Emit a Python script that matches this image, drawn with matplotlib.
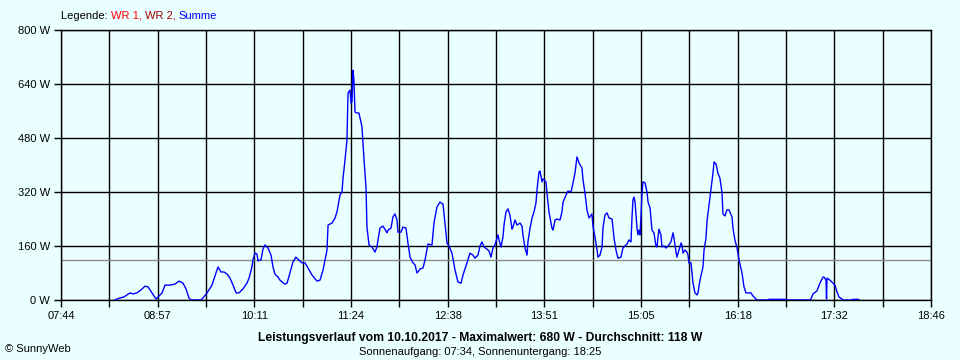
import matplotlib
matplotlib.use("Agg")
import matplotlib.pyplot as plt
import numpy as np

# Tagesverlauf 10.10.2017, Zeit in Minuten seit Mitternacht, Leistung in W (Summe)
minutes = [505.0, 506.6, 508.9, 511.9, 516.5, 518.8, 521.8, 524.9, 527.9, 530.2, 533.2, 536.3,
           537.8, 540.9, 543.1, 546.9, 550.7, 553.8, 556.8, 559.1, 561.4, 562.9, 570.5, 572.0,
           575.1, 578.9, 581.9, 583.5, 585.7, 588.0, 590.3, 592.6, 594.9, 597.2, 599.4, 602.5,
           605.5, 607.1, 609.3, 610.1, 611.6, 613.1, 613.9, 616.2, 617.7, 619.2, 621.5, 623.8,
           625.3, 626.8, 629.1, 630.6, 634.4, 636.0, 638.2, 640.5, 642.8, 644.3, 647.4, 649.7,
           651.9, 655.0, 658.8, 661.1, 663.4, 664.9, 666.4, 667.2, 670.2, 672.5, 674.0, 676.3,
           677.8, 678.6, 680.1, 681.6, 682.4, 683.9, 684.7, 685.4, 686.2, 686.9, 687.7, 689.2,
           690.7, 693.0, 694.6, 696.1, 696.8, 698.4, 700.6, 702.9, 704.4, 706.7, 709.0, 712.1,
           712.8, 715.1, 716.6, 718.1, 719.7, 720.4, 722.7, 724.2, 726.5, 728.0, 729.6, 731.8,
           733.4, 734.9, 737.2, 739.5, 741.0, 743.3, 746.3, 747.8, 750.1, 752.4, 754.7, 756.2,
           757.7, 759.2, 761.5, 763.8, 766.1, 768.4, 769.9, 772.9, 775.2, 777.5, 779.0, 781.3,
           782.8, 784.3, 785.9, 788.1, 789.7, 791.2, 792.7, 794.2, 795.8, 796.5, 797.3, 798.8,
           800.3, 801.1, 802.6, 804.1, 805.6, 807.2, 807.9, 809.5, 811.0, 813.3, 814.8, 815.5,
           817.1, 818.6, 819.3, 820.9, 822.4, 823.9, 825.4, 826.2, 827.7, 828.5, 830.0, 830.8,
           833.0, 833.8, 835.3, 837.6, 838.4, 839.9, 841.4, 843.7, 845.2, 846.0, 848.3, 849.8,
           852.1, 853.6, 855.1, 856.6, 858.2, 860.4, 861.2, 862.7, 864.2, 865.8, 868.0, 868.8,
           870.3, 871.9, 872.6, 874.1, 875.7, 876.4, 877.9, 879.5, 881.0, 883.3, 884.8, 886.3,
           887.8, 890.1, 891.6, 893.1, 894.7, 896.2, 897.7, 898.5, 899.2, 900.0, 900.8, 902.3,
           903.0, 903.8, 904.6, 905.3, 906.1, 906.8, 908.4, 909.9, 910.7, 912.2, 913.7, 915.2,
           916.7, 917.5, 918.3, 919.0, 920.5, 921.3, 922.8, 924.3, 925.9, 928.1, 929.7, 930.4,
           932.0, 932.7, 934.2, 935.8, 936.5, 937.3, 938.8, 940.3, 941.1, 941.8, 943.4, 944.1,
           944.9, 946.4, 947.9, 948.7, 950.2, 952.5, 953.3, 954.8, 955.5, 957.1, 958.6, 960.1,
           960.9, 962.4, 963.9, 965.4, 967.0, 967.7, 969.2, 970.8, 972.3, 974.6, 975.3, 976.8,
           978.4, 979.9, 982.2, 983.7, 985.2, 986.7, 989.0, 990.5, 993.6, 1002.0, 1002.7, 1014.9,
           1015.7, 1033.9, 1034.7, 1036.2, 1039.2, 1041.5, 1043.8, 1044.6, 1046.1, 1046.5, 1046.9,
           1049.1, 1051.4, 1052.9, 1054.5, 1056.0, 1058.3, 1059.0, 1065.9, 1066.6, 1070.5, 1071.2]
watts = [0, 3, 6, 9, 21, 18, 21, 30, 41, 39, 21, 3,
         9, 21, 44, 44, 47, 56, 50, 33, 6, 0, 0, 6,
         21, 44, 80, 98, 83, 83, 77, 65, 44, 21, 21, 33,
         50, 65, 98, 119, 139, 136, 116, 119, 151, 163, 154, 133,
         98, 77, 68, 59, 47, 50, 80, 113, 127, 121, 110, 110,
         95, 74, 56, 59, 89, 119, 148, 222, 228, 243, 261, 311,
         320, 361, 415, 474, 613, 622, 584, 587, 681, 652, 557, 554,
         554, 513, 415, 332, 216, 163, 157, 142, 157, 213, 219, 199,
         207, 213, 246, 255, 237, 201, 201, 216, 213, 169, 127, 110,
         104, 80, 92, 95, 119, 166, 163, 228, 276, 290, 284, 228,
         169, 160, 139, 89, 53, 50, 74, 110, 139, 133, 124, 133,
         160, 172, 157, 151, 145, 127, 154, 163, 184, 193, 178, 157,
         187, 222, 261, 270, 252, 210, 216, 237, 222, 228, 219, 193,
         154, 133, 172, 213, 243, 261, 287, 326, 379, 382, 350, 359,
         350, 317, 261, 213, 207, 237, 240, 237, 261, 290, 311, 323,
         320, 347, 376, 424, 406, 391, 356, 317, 267, 243, 255, 219,
         187, 148, 127, 133, 157, 213, 252, 258, 243, 240, 184, 148,
         124, 127, 154, 160, 166, 178, 172, 246, 296, 305, 290, 213,
         193, 207, 193, 246, 317, 350, 347, 320, 290, 273, 207, 199,
         160, 157, 187, 210, 193, 157, 160, 154, 160, 172, 199, 184,
         142, 127, 148, 169, 163, 139, 148, 142, 133, 110, 110, 83,
         50, 21, 15, 21, 59, 98, 148, 184, 231, 281, 326, 376,
         409, 403, 376, 361, 317, 255, 249, 267, 267, 246, 213, 178,
         154, 119, 80, 39, 21, 21, 21, 12, 0, 0, 2, 2,
         0, 0, 3, 18, 27, 50, 68, 68, 59, 3, 65,
         59, 50, 44, 24, 9, 3, 0, 0, 2, 2, 0]

tick_labels = ["07:44", "08:57", "10:11", "11:24", "12:38", "13:51", "15:05", "16:18", "17:32", "18:46"]
t_start, t_end = 464, 1126
y_ticks = [0, 160, 320, 480, 640, 800]
average = 118
maximum = 680

bg = "#EAFFFF"
font = "Liberation Sans"

fig = plt.figure(figsize=(9.6, 3.6), dpi=100, facecolor=bg)
ax = fig.add_axes([61 / 960, 60 / 360, 870 / 960, 270 / 360], facecolor=bg)

major = np.linspace(t_start, t_end, len(tick_labels))
minor = (major[:-1] + major[1:]) / 2
ax.set_xlim(t_start, t_end)
ax.set_ylim(0, 800)
ax.set_xticks(major)
ax.set_xticklabels(tick_labels, fontfamily=font, fontsize=8)
ax.set_xticks(minor, minor=True)
ax.set_yticks(y_ticks)
ax.set_yticklabels([f"{v} W" for v in y_ticks], fontfamily=font, fontsize=8)

ax.tick_params(axis="both", which="both", direction="out", length=5, width=1, color="black", pad=3)
for x in np.concatenate([major, minor]):
    ax.axvline(x, color="black", lw=1, zorder=1)
for v in y_ticks:
    ax.axhline(v, color="black", lw=1, zorder=1)
for s in ax.spines.values():
    s.set_color("black")
    s.set_linewidth(1)

ax.axhline(average, color="#8C8C8C", lw=1, zorder=2)
ax.plot(minutes, watts, color="#0000FF", lw=1.0, zorder=3)

# Legende oben links
t1 = fig.text(61 / 960, 1 - 16 / 360, "Legende: ", fontfamily=font, fontsize=8, color="black", va="center")
t2 = ax.annotate("WR 1, ", xy=(1, 0), xycoords=t1, va="bottom", fontfamily=font, fontsize=8, color="#FF0000")
t3 = ax.annotate("WR 2, ", xy=(1, 0), xycoords=t2, va="bottom", fontfamily=font, fontsize=8, color="#A00000")
ax.annotate("Summe", xy=(1, 0), xycoords=t3, va="bottom", fontfamily=font, fontsize=8, color="#0000FF")

fig.text(0.5, 1 - 338 / 360,
         f"Leistungsverlauf vom 10.10.2017 - Maximalwert: {maximum} W - Durchschnitt: {average} W",
         ha="center", va="center", fontfamily=font, fontsize=8.7, fontweight="bold")
fig.text(0.5, 1 - 352 / 360, "Sonnenaufgang: 07:34, Sonnenuntergang: 18:25",
         ha="center", va="center", fontfamily=font, fontsize=8)
fig.text(5 / 960, 1 - 349 / 360, "© SunnyWeb", ha="left", va="center", fontfamily=font, fontsize=8)

fig.savefig("out.png", dpi=100, facecolor=bg)
